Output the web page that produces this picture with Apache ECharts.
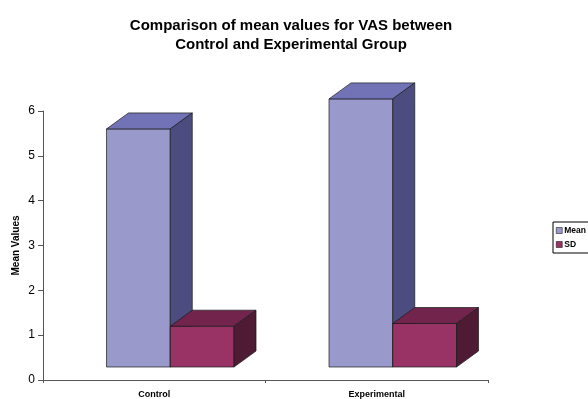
<!DOCTYPE html>
<html>
<head>
<meta charset="utf-8">
<script src="https://cdn.jsdelivr.net/npm/echarts@6/dist/echarts.min.js"></script>
<style>html,body{margin:0;padding:0;background:#fff;}#chart{width:588px;height:399px;}</style>
</head>
<body>
<div id="chart"></div>
<script>
const categories = ['Control', 'Experimental'];
const meanValues = [5.6, 6.27];
const sdValues = [1.2, 1.26];
const yTicks = [0, 1, 2, 3, 4, 5, 6];

const FONT = '"Liberation Sans", Arial, sans-serif';
const DX = 22, DY = 16, FLOOR = 13;

function make3D(isMean, colors) {
  return function (params, api) {
    const cat = api.value(0), val = api.value(1);
    const base = api.coord([cat, 0]);
    const top = api.coord([cat, val]);
    const cw = api.size([1, 0])[0];
    const bw = cw * 0.2865, off = cw * 0.072;
    const x0 = isMean ? base[0] + off - bw : base[0] + off;
    const yb = base[1] - FLOOR, yt = top[1];
    const stroke = { stroke: '#1a1a1a', lineWidth: 0.7, lineJoin: 'round' };
    return {
      type: 'group',
      children: [
        { type: 'polygon', shape: { points: [[x0, yt], [x0 + bw, yt], [x0 + bw, yb], [x0, yb]] },
          style: Object.assign({ fill: colors[0] }, stroke) },
        { type: 'polygon', shape: { points: [[x0, yt], [x0 + DX, yt - DY], [x0 + bw + DX, yt - DY], [x0 + bw, yt]] },
          style: Object.assign({ fill: colors[1] }, stroke) },
        { type: 'polygon', shape: { points: [[x0 + bw, yt], [x0 + bw + DX, yt - DY], [x0 + bw + DX, yb - DY], [x0 + bw, yb]] },
          style: Object.assign({ fill: colors[2] }, stroke) }
      ]
    };
  };
}

const chart = echarts.init(document.getElementById('chart'), null, { renderer: 'canvas' });
chart.setOption({
  animation: false,
  backgroundColor: '#fff',
  title: {
    text: 'Comparison of mean values for VAS between\nControl and Experimental Group',
    left: 286, top: 11, textAlign: 'center',
    textStyle: { fontFamily: FONT, fontWeight: 'bold', fontSize: 15, color: '#000', lineHeight: 19 }
  },
  legend: {
    orient: 'vertical', left: 553, top: 222,
    data: ['Mean', 'SD'],
    icon: 'rect', itemWidth: 6, itemHeight: 6, itemGap: 5,
    padding: [4, 4, 4, 3],
    borderColor: '#000', borderWidth: 1,
    itemStyle: { borderColor: '#000', borderWidth: 0.5 },
    textStyle: { fontFamily: FONT, fontWeight: 'bold', fontSize: 8.5, color: '#000', padding: [0, 0, 0, -3] }
  },
  grid: { left: 43, right: 100, top: 111, bottom: 16, containLabel: false },
  xAxis: {
    type: 'category', data: categories, boundaryGap: true,
    axisLine: { lineStyle: { color: '#555', width: 1 } },
    axisTick: { show: true, length: 3, lineStyle: { color: '#555' } },
    axisLabel: { fontFamily: FONT, fontWeight: 'bold', fontSize: 9, color: '#000', margin: 10 },
    splitLine: { show: false }
  },
  yAxis: {
    type: 'value', min: yTicks[0], max: yTicks[yTicks.length - 1], interval: 1,
    name: 'Mean Values', nameLocation: 'middle', nameRotate: 90, nameGap: 22, nameMoveOverlap: false,
    nameTextStyle: { fontFamily: FONT, fontWeight: 'bold', fontSize: 10, color: '#000' },
    axisLine: { show: true, lineStyle: { color: '#555', width: 1 } },
    axisTick: { show: true, length: 5, lineStyle: { color: '#555' } },
    axisLabel: { fontFamily: FONT, fontSize: 12, color: '#000', margin: 8 },
    splitLine: { show: false }
  },
  series: [
    { name: 'Mean', type: 'custom', clip: false,
      itemStyle: { color: '#9999CC' },
      renderItem: make3D(true, ['#9999CC', '#7272B6', '#4C4C80']),
      data: meanValues.map((v, i) => [i, v]) },
    { name: 'SD', type: 'custom', clip: false,
      itemStyle: { color: '#993366' },
      renderItem: make3D(false, ['#993366', '#72244C', '#4F1B34']),
      data: sdValues.map((v, i) => [i, v]) }
  ]
});
</script>
</body>
</html>
